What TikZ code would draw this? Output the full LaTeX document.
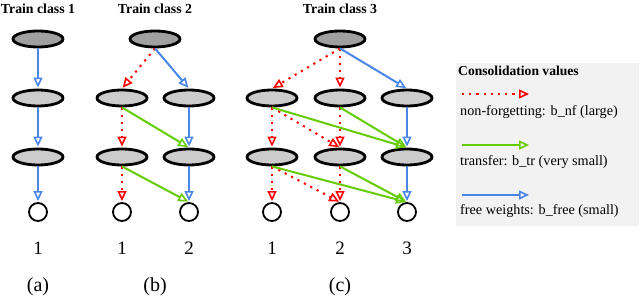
\documentclass[tikz,border=0pt]{standalone}
\usepackage{fontspec}
\setmainfont{Liberation Serif}
\usetikzlibrary{arrows.meta,shapes.geometric}
\definecolor{cred}{RGB}{255,0,0}
\definecolor{cgreen}{RGB}{102,204,0}
\definecolor{cblue}{RGB}{74,134,232}
\definecolor{darkfill}{RGB}{160,160,160}
\definecolor{lightfill}{RGB}{204,204,204}
\definecolor{legfill}{RGB}{242,242,242}
\begin{document}
\begin{tikzpicture}[x=1pt,y=-1pt,
  topnode/.style={ellipse,draw,line width=2.8pt,fill=darkfill,minimum width=50pt,minimum height=16pt,inner sep=0pt},
  hidnode/.style={ellipse,draw,line width=2.8pt,fill=lightfill,minimum width=50pt,minimum height=16pt,inner sep=0pt},
  outnode/.style={circle,draw,line width=1.8pt,fill=white,minimum size=18pt,inner sep=0pt},
  tiparrow/.style={-{Triangle[open,length=10pt,width=9pt,line width=1.6pt]}, shorten >=1pt},
  nf/.style={tiparrow,cred,line width=2pt,dash pattern=on 2.2pt off 5pt},
  tr/.style={tiparrow,cgreen,line width=2pt},
  fr/.style={tiparrow,cblue,line width=2pt},
  ttl/.style={font=\bfseries\fontsize{13.8}{15}\selectfont},
  num/.style={font=\fontsize{19}{21}\selectfont},
  captext/.style={font=\fontsize{20}{22}\selectfont},
  leg/.style={font=\fontsize{14.2}{16}\selectfont,anchor=west,inner sep=0pt}]
\useasboundingbox (0,0) rectangle (640,299);
% Panel (a)
\node[ttl] (ta) at (38,9) {Train class 1};
\node[topnode] (a0) at (38,39) {};
\node[hidnode] (a1) at (38,98) {};
\node[hidnode] (a2) at (38,157) {};
\node[outnode] (a3) at (38,212) {};
\node[num] (an) at (38,248) {1};
\node[captext] (ac) at (38,287) {(a)};
\draw[fr] (a0.south) -- (a1.north);
\draw[fr] (a1.south) -- (a2.north);
\draw[fr] (a2.south) -- (a3.north);
% Panel (b)
\node[ttl] (tb) at (155,9) {Train class 2};
\node[topnode] (b0) at (155,39) {};
\node[hidnode] (b11) at (122,98) {};
\node[hidnode] (b12) at (189,98) {};
\node[hidnode] (b21) at (122,157) {};
\node[hidnode] (b22) at (189,157) {};
\node[outnode] (b31) at (122,212) {};
\node[outnode] (b32) at (189,212) {};
\node[num] (bn1) at (122,248) {1};
\node[num] (bn2) at (189,248) {2};
\node[captext] (bc) at (155,287) {(b)};
\draw[nf] (b0.south) -- (b11.north);
\draw[fr] (b0.south) -- (b12.north);
\draw[nf] (b11.south) -- (b21.north);
\draw[tr] (b11.south) -- (b22.north);
\draw[fr] (b12.south) -- (b22.north);
\draw[nf] (b21.south) -- (b31.north);
\draw[tr] (b21.south) -- (b32.north);
\draw[fr] (b22.south) -- (b32.north);
% Panel (c)
\node[ttl] (tc) at (340,9) {Train class 3};
\node[topnode] (c0) at (340,39) {};
\node[hidnode] (c11) at (272,98) {};
\node[hidnode] (c12) at (340,98) {};
\node[hidnode] (c13) at (407,98) {};
\node[hidnode] (c21) at (272,157) {};
\node[hidnode] (c22) at (340,157) {};
\node[hidnode] (c23) at (407,157) {};
\node[outnode] (c31) at (272,212) {};
\node[outnode] (c32) at (340,212) {};
\node[outnode] (c33) at (407,212) {};
\node[num] (cn1) at (272,248) {1};
\node[num] (cn2) at (340,248) {2};
\node[num] (cn3) at (407,248) {3};
\node[captext] (cc) at (340,287) {(c)};
\draw[nf] (c0.south) -- (c11.north);
\draw[nf] (c0.south) -- (c12.north);
\draw[fr] (c0.south) -- (c13.north);
\draw[nf] (c11.south) -- (c21.north);
\draw[nf] (c11.south) -- (c22.north);
\draw[tr] (c11.south) -- (c23.north);
\draw[nf] (c12.south) -- (c22.north);
\draw[tr] (c12.south) -- (c23.north);
\draw[fr] (c13.south) -- (c23.north);
\draw[nf] (c21.south) -- (c31.north);
\draw[nf] (c21.south) -- (c32.north);
\draw[tr] (c21.south) -- (c33.north);
\draw[nf] (c22.south) -- (c32.north);
\draw[tr] (c22.south) -- (c33.north);
\draw[fr] (c23.south) -- (c33.north);
% Legend
\node[draw=none,fill=legfill,minimum width=183pt,minimum height=163pt,anchor=north west,inner sep=0pt] (lg) at (456,63) {};
\node[leg,font=\bfseries\fontsize{13.6}{15}\selectfont] (lt) at (458,71) {Consolidation values};
\coordinate (l1a) at (462,94); \coordinate (l1b) at (530,94);
\coordinate (l2a) at (462,145); \coordinate (l2b) at (530,145);
\coordinate (l3a) at (462,195); \coordinate (l3b) at (530,195);
\draw[nf] (l1a) -- (l1b);
\draw[tr] (l2a) -- (l2b);
\draw[fr] (l3a) -- (l3b);
\node[leg] (lx1) at (460,112) {non-forgetting: b\_nf (large)};
\node[leg] (lx2) at (460,162) {transfer: b\_tr (very small)};
\node[leg] (lx3) at (460,211) {free weights: b\_free (small)};
\end{tikzpicture}
\end{document}
